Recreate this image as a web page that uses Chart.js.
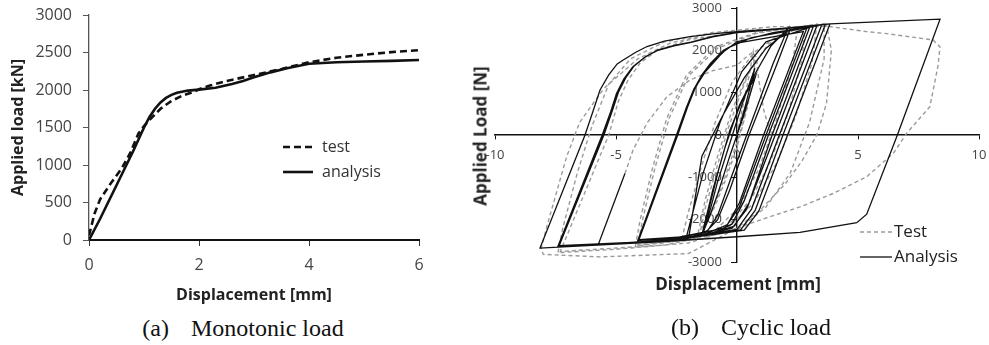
<!DOCTYPE html>
<html>
<head>
<meta charset="utf-8">
<script src="https://cdn.jsdelivr.net/npm/chart.js@4.4.0/dist/chart.umd.min.js"></script>
<style>
  body { margin:0; background:#fff; width:989px; height:345px; position:relative; overflow:hidden; }
  #grafico-monotonic { position:absolute; left:0; top:0; }
  #grafico-cyclic { position:absolute; left:440px; top:0; }
  .caption { position:absolute; font-family:"Liberation Serif", serif; font-size:24px; color:#111; white-space:nowrap; transform:translate(-50%,-50%); }
  .caption span { display:inline-block; width:22px; }
  .axis-title { position:absolute; font-family:"Open Sans", sans-serif; font-weight:700; font-size:17px; color:#222; white-space:nowrap; }
</style>
</head>
<body>
<canvas id="grafico-monotonic" width="440" height="310"></canvas>
<canvas id="grafico-cyclic" width="549" height="290"></canvas>
<div class="axis-title" style="left:480px; top:136px; transform:translate(-50%,-50%) rotate(-90deg);">Applied Load [N]</div>
<div class="axis-title" style="left:738px; top:283px; transform:translate(-50%,-50%);">Displacement [mm]</div>
<div class="caption" style="left:243px; top:328px;">(a)<span></span>Monotonic load</div>
<div class="caption" style="left:751px; top:327px;">(b)<span></span>Cyclic load</div>
<script>
// (a) monotonic load
const dispMonoTest = [0, 0.1, 0.2, 0.4, 0.6, 0.75, 0.9, 1.0, 1.1, 1.3, 1.5, 1.7, 1.9, 2.0, 2.2, 2.5, 3.0, 3.5, 4.0, 4.5, 5.0, 5.5, 6.0];
const loadMonoTest = [60, 350, 540, 760, 960, 1160, 1420, 1520, 1600, 1750, 1855, 1925, 1975, 2010, 2060, 2120, 2200, 2280, 2370, 2430, 2470, 2505, 2530];
const dispMonoAna = [0, 0.2, 0.4, 0.6, 0.8, 0.9, 1.0, 1.1, 1.2, 1.3, 1.4, 1.5, 1.6, 1.8, 2.0, 2.3, 2.6, 2.8, 3.0, 3.3, 3.6, 4.0, 4.5, 5.0, 5.5, 6.0];
const loadMonoAna = [0, 280, 580, 880, 1180, 1340, 1500, 1640, 1750, 1835, 1895, 1935, 1962, 1992, 2005, 2030, 2080, 2120, 2170, 2235, 2290, 2350, 2370, 2380, 2388, 2400];

// (b) cyclic load, [displacement, load]
const anaSmall = [[0, 0], [0.35, 700], [0.74, 1576], [0.2, 700], [-0.3, -200], [-0.8, -1100], [-1.1, -1750], [-1.4, -2330],
  [-1.1, -1600], [-0.75, -800], [-0.3, 100], [0.2, 800], [0.76, 1380], [0.3, 500], [-0.3, -500], [-0.8, -1400], [-1.15, -1950], [-1.45, -2360]];
const anaCycle2 = [[-1.0, -1300], [-0.5, -300], [0.1, 700], [0.8, 1500], [1.4, 2100], [2.11, 2522],
  [1.5, 1700], [0.4, 0], [-0.3, -1100], [-0.8, -1900], [-1.2, -2250], [-2.0, -2440],
  [-1.45, -500], [-0.6, 450], [0.3, 1350], [1.2, 2050], [2.2, 2500],
  [1.6, 1600], [0.5, 0], [-0.3, -1300], [-0.8, -2000], [-1.3, -2300], [-2.1, -2430]];
const anaCycle3 = [[-1.4, -900], [-0.7, 300], [0.2, 1500], [1.2, 2200], [3.0, 2540],
  [1.3, 0], [0.3, -1550], [-0.2, -2100], [-1.0, -2330], [-2.5, -2430], [-4.09, -2482],
  [-2.49, 0], [-2.1, 640], [-1.8, 1064], [-1.45, 1420], [-1.1, 1690], [-0.56, 2000], [0, 2170], [2.74, 2442],
  [1.1, 0], [0.1, -1600], [-0.4, -2120], [-1.5, -2380], [-4.05, -2470],
  [-2.45, 0], [-2.05, 650], [-1.75, 1080], [-1.4, 1440], [-1.0, 1720], [-0.4, 2050], [0.6, 2300], [3.15, 2560],
  [1.45, 0], [0.5, -1600], [-0.1, -2150], [-1.5, -2390], [-4.1, -2490]];
const anaCycle4 = [[-2.5, 0], [-2.1, 640], [-1.75, 1100], [-1.3, 1500], [-0.6, 1950], [0, 2200], [1.5, 2420], [3.3, 2580],
  [1.58, 0], [0.4, -1750], [-0.2, -2200], [-2.08, -2450], [-5, -2560], [-7.38, -2624],
  [-5.55, 0], [-5.2, 560], [-4.96, 990], [-4.65, 1330], [-4.3, 1615], [-3.8, 1840], [-3.3, 2000], [-2.6, 2110], [-1.94, 2185], [-1, 2320], [0, 2420], [2, 2515], [3.5, 2600],
  [1.75, 0], [0.6, -1750], [0, -2230], [-3, -2500], [-7.35, -2615],
  [-5.5, 0], [-5.15, 580], [-4.9, 1010], [-4.6, 1350], [-4.25, 1630], [-3.75, 1860], [-3.25, 2010], [-2.55, 2120], [-1.9, 2195], [-1, 2330], [0, 2425], [2, 2520], [3.65, 2610],
  [1.9, 0], [0.75, -1780], [0.15, -2240], [-3, -2505], [-7.38, -2622],
  [-5.53, 0], [-5.18, 570], [-4.93, 1000], [-4.63, 1340], [-4.28, 1620], [-3.78, 1850], [-3.28, 2005], [-2.58, 2115], [-1.92, 2190], [-1, 2325], [0, 2422], [2, 2520], [3.84, 2624],
  [2.09, 0], [0.9, -1800], [0.3, -2250], [-3, -2510], [-7.4, -2630],
  [-5.57, 0], [-5.22, 550], [-4.98, 980], [-4.68, 1320], [-4.32, 1600], [-3.82, 1830], [-3.3, 1995], [-2.6, 2105], [-1.94, 2180], [-1, 2320], [0, 2420], [2.05, 2522], [3.84, 2624]];
const anaCycle5 = [[8.39, 2735], [6.6, -40], [5.36, -1870], [4.95, -2073], [2.6, -2300], [0, -2404], [-3.18, -2522], [-8.14, -2670],
  [-6.28, 0], [-5.95, 560], [-5.66, 1064], [-5.3, 1420], [-4.95, 1680], [-4.7, 1770], [-4.2, 1950], [-3.72, 2090], [-3.0, 2220], [-1.94, 2325], [-1, 2390], [0, 2440], [2.05, 2522], [2.9, 2545],
  [1.2, 0], [0.1, -1700], [-0.5, -2200], [-3, -2480], [-5.74, -2600], [-4.63, -910]];

const testSmall = [[0, 0], [0.25, 700], [0.5, 1400], [0.67, 1960], [0.72, 1600], [0.45, 700], [0, -300], [-0.5, -1100], [-1.0, -1800], [-1.5, -2250],
  [-1.3, -1700], [-0.9, -900], [-0.4, 100], [0.1, 900], [0.5, 1500], [0.78, 1800],
  [0.6, 1100], [0.1, 0], [-0.5, -1000], [-1.1, -1900], [-1.6, -2300]];
const testCycle2 = [[-1.3, -1500], [-0.8, -500], [-0.2, 600], [0.5, 1500], [1.3, 2150], [2.5, 2530],
  [2.3, 1700], [1.6, 300], [0.9, -800], [0.1, -1700], [-0.9, -2250], [-2.3, -2500],
  [-2.0, -1800], [-1.5, -800], [-0.9, 300], [-0.2, 1250], [0.7, 1950], [1.7, 2350], [2.8, 2560]];
const testCycle3 = [[2.7, 1800], [2.1, 500], [1.4, -600], [0.6, -1500], [-0.3, -2100], [-1.8, -2450], [-4.1, -2600],
  [-3.9, -2000], [-3.4, -800], [-2.8, 400], [-2.0, 1400], [-0.8, 2050], [0.8, 2400], [3.3, 2620],
  [3.1, 1700], [2.4, 400], [1.6, -700], [0.7, -1600], [-0.3, -2150], [-2, -2480], [-4.2, -2620],
  [-4.0, -2000], [-3.5, -800], [-2.9, 400], [-2.1, 1400], [-0.9, 2080], [0.8, 2420], [3.6, 2630],
  [3.6, 1800], [3.0, 300], [2.2, -900], [1.2, -1700], [0, -2250], [-3, -2600], [-7.3, -2750],
  [-5.3, 0], [-4.9, 800], [-4.5, 1300], [-4.0, 1700], [-3.3, 2000], [-2, 2250], [0, 2420], [2, 2530], [3.7, 2620]];
const testCycle4 = [[3.9, 2000], [3.7, 750], [3.3, 0], [2.7, -600], [2.0, -1150], [1.0, -1750], [0, -2200], [-2, -2550], [-5, -2700], [-7.4, -2780],
  [-7.2, -2200], [-6.6, -900], [-6.0, 200], [-5.3, 1200], [-4.4, 1800], [-3.0, 2200], [-1, 2420], [1.5, 2560], [3.84, 2560]];
const testCycle5 = [[5.36, 2442], [6.1, 2400], [8.1, 2246], [8.39, 2080], [8.3, 1615], [7.97, 670], [7.01, 40], [6.46, -433],
  [5.36, -985], [3.98, -1380], [2.6, -1700], [1.23, -1955], [0, -2200], [-1, -2500], [-2.0, -2800], [-5.66, -2880], [-8.0, -2820], [-8.1, -2700],
  [-7.86, -2167], [-7.04, -512], [-6.5, 300], [-5.5, 1100], [-4.1, 1800], [-2.77, 2170], [-1, 2400], [1, 2500]];
const testArc = [[-4.63, -910], [-4.3, -360], [-3.72, 280], [-2.9, 900], [-1.94, 1300], [-1.0, 1520], [0, 1650], [0.4, 1850], [0.66, 1960],
  [0.8, 1830], [0.9, 1300], [1.1, 600], [1.4, 0]];

const ticksMonoX = [0, 2, 4, 6];
const ticksMonoY = [0, 500, 1000, 1500, 2000, 2500, 3000];
const ticksCycX = [-10, -5, 0, 5, 10];
const ticksCycY = [-3000, -2000, -1000, 0, 1000, 2000, 3000];

const aPuntos = (xs, ys) => xs.map((x, i) => ({x: x, y: ys[i]}));
const aPares = (lista) => lista.map(p => ({x: p[0], y: p[1]}));

const leyendaLibre = {
  id: 'leyendaLibre',
  afterDraw(chart, args, opts) {
    const ctx = chart.ctx;
    ctx.save();
    chart.data.datasets.forEach((ds) => {
      if (ds.sinLeyenda) return;
      const y = opts.y + ds.filaLeyenda * opts.gap;
      ctx.beginPath();
      ctx.setLineDash(ds.borderDash || []);
      ctx.strokeStyle = ds.borderColor;
      ctx.lineWidth = ds.borderWidth;
      ctx.moveTo(opts.x, y);
      ctx.lineTo(opts.x + opts.lineLen, y);
      ctx.stroke();
      ctx.setLineDash([]);
      ctx.fillStyle = opts.color;
      ctx.font = opts.font;
      ctx.textBaseline = 'middle';
      ctx.fillText(ds.label, opts.x + opts.lineLen + opts.textGap, y);
    });
    ctx.restore();
  }
};

const fuenteTicks = (size) => ({family: "'Open Sans', sans-serif", size: size});
const fuenteTitulo = {family: "'Open Sans', sans-serif", size: 16, weight: 'bold'};

new Chart(document.getElementById('grafico-monotonic'), {
  type: 'scatter',
  data: {
    datasets: [{
      label: 'test',
      filaLeyenda: 0,
      data: aPuntos(dispMonoTest, loadMonoTest),
      showLine: true,
      borderColor: '#111',
      borderWidth: 2.6,
      borderDash: [7, 4],
      pointRadius: 0
    }, {
      label: 'analysis',
      filaLeyenda: 1,
      data: aPuntos(dispMonoAna, loadMonoAna),
      showLine: true,
      borderColor: '#111',
      borderWidth: 2.6,
      pointRadius: 0
    }]
  },
  options: {
    responsive: false,
    animation: false,
    layout: { padding: { top: 15, right: 21, left: 0, bottom: 0 } },
    plugins: {
      legend: { display: false },
      tooltip: { enabled: false },
      leyendaLibre: { x: 283, y: 147, gap: 25, lineLen: 30, textGap: 9, font: "16px 'Open Sans', sans-serif", color: '#333' }
    },
    scales: {
      x: {
        type: 'linear', min: 0, max: 6,
        afterBuildTicks: s => { s.ticks = ticksMonoX.map(v => ({value: v})); },
        afterFit: s => { s.height = 70; s.paddingLeft = 0; s.paddingRight = 0; },
        ticks: { font: fuenteTicks(16), color: '#444', padding: 10, callback: v => String(v) },
        grid: { drawOnChartArea: false, tickLength: 6, color: '#333' },
        border: { color: '#111', width: 2 },
        title: { display: true, text: 'Displacement [mm]', color: '#222', font: fuenteTitulo, padding: {top: 0, bottom: 5} }
      },
      y: {
        type: 'linear', min: 0, max: 3000,
        afterBuildTicks: s => { s.ticks = ticksMonoY.map(v => ({value: v})); },
        afterFit: s => { s.width = 89; s.paddingTop = 0; s.paddingBottom = 0; },
        ticks: { font: fuenteTicks(16), color: '#444', padding: 11, callback: v => String(v) },
        grid: { drawOnChartArea: false, tickLength: 6, color: '#555' },
        border: { color: '#555', width: 1.3 },
        title: { display: true, text: 'Applied load [kN]', color: '#222', font: fuenteTitulo, padding: {top: 9, bottom: 0} }
      }
    }
  },
  plugins: [leyendaLibre]
});

const estiloTest = { showLine: true, borderColor: '#9a9a9a', borderWidth: 1.4, borderDash: [4, 3], pointRadius: 0, order: 2 };
const estiloAna = { showLine: true, borderColor: '#111', borderWidth: 1.3, pointRadius: 0, order: 1 };

new Chart(document.getElementById('grafico-cyclic'), {
  type: 'scatter',
  data: {
    datasets: [
      Object.assign({ label: 'Test', filaLeyenda: 0,
        data: aPares([].concat(testSmall, testCycle2, testCycle3, testCycle4, testCycle5)) }, estiloTest),
      Object.assign({ label: 'Test', sinLeyenda: true, data: aPares(testArc) }, estiloTest),
      Object.assign({ label: 'Analysis', filaLeyenda: 1,
        data: aPares([].concat(anaSmall, anaCycle2, anaCycle3, anaCycle4, anaCycle5)) }, estiloAna)
    ]
  },
  options: {
    responsive: false,
    animation: false,
    layout: { padding: { top: 8, right: 10, left: 55, bottom: 28 } },
    plugins: {
      legend: { display: false },
      tooltip: { enabled: false },
      leyendaLibre: { x: 420, y: 232, gap: 25, lineLen: 32, textGap: 2, font: "17px 'Open Sans', sans-serif", color: '#222' }
    },
    scales: {
      x: {
        type: 'linear', min: -10, max: 10, position: { y: 0 },
        afterBuildTicks: s => { s.ticks = ticksCycX.map(v => ({value: v})); },
        afterFit: s => { s.paddingLeft = 0; s.paddingRight = 0; },
        ticks: { font: fuenteTicks(13), color: '#444', padding: 8, callback: v => String(v) },
        grid: { drawOnChartArea: false, tickLength: 4, color: '#111' },
        border: { color: '#111', width: 1.4 }
      },
      y: {
        type: 'linear', min: -3000, max: 3000, position: { x: 0 },
        afterBuildTicks: s => { s.ticks = ticksCycY.map(v => ({value: v})); },
        afterFit: s => { s.paddingTop = 0; s.paddingBottom = 0; },
        // labels sit against the axis line, the trailing em space keeps them clear of it
        ticks: { font: fuenteTicks(13), color: '#444', padding: 0, callback: v => String(v) + '\u2003\u2009' },
        grid: { drawOnChartArea: false, tickLength: 5, color: '#111' },
        border: { color: '#111', width: 1.4 }
      }
    }
  },
  plugins: [leyendaLibre]
});
</script>
</body>
</html>
